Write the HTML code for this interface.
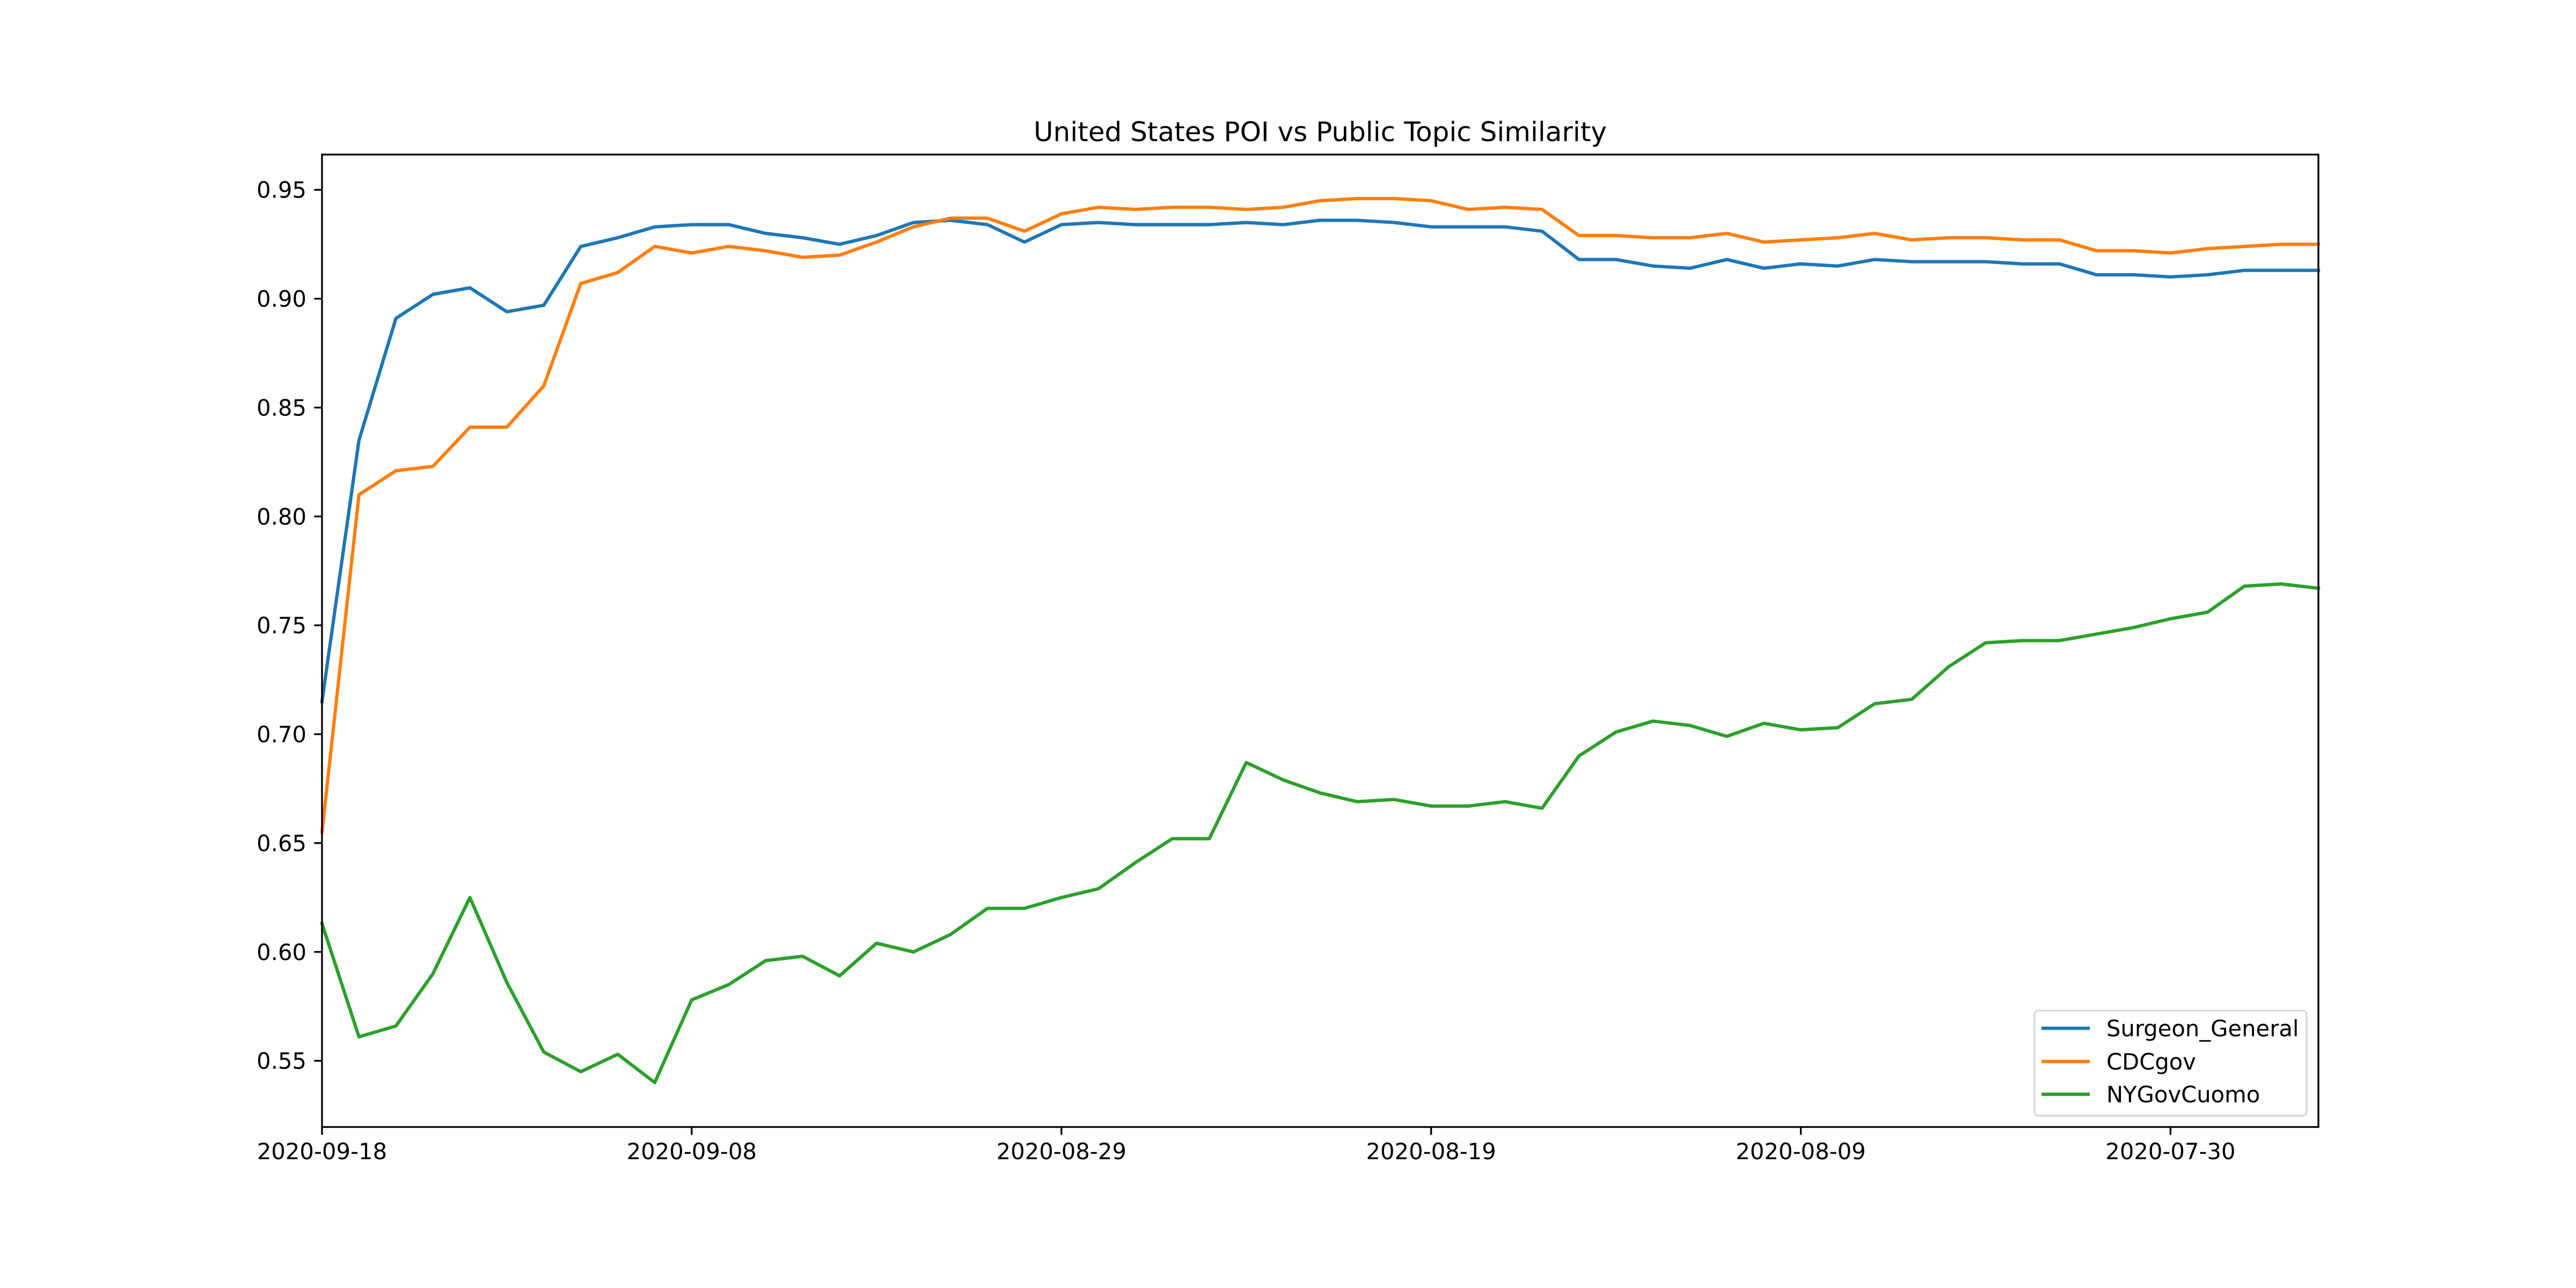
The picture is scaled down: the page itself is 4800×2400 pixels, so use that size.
<!DOCTYPE html>
<html><head><meta charset="utf-8"><style>html,body{margin:0;padding:0;background:#fff}svg{display:block}text{font-family:"DejaVu Sans","Liberation Sans",sans-serif;fill:#000}</style></head>
<body>
<svg id="chart" width="4800" height="2400" viewBox="0 0 4800 2400" xmlns="http://www.w3.org/2000/svg">
<rect x="0" y="0" width="4800" height="2400" fill="#fff"/>
<text x="2460" y="263" font-size="50" text-anchor="middle">United States POI vs Public Topic Similarity</text>
<g id="plot"></g>
<g id="yaxis"></g>
<g id="xaxis"></g>
<rect x="600" y="288" width="3720" height="1812" fill="none" stroke="#000" stroke-width="3.3"/>
<g>
<rect x="3791" y="1883" width="507" height="196" rx="8" fill="#fff" fill-opacity="0.8" stroke="#d6d6d6" stroke-width="3.3"/>
<line x1="3804" y1="1916" x2="3894" y2="1916" stroke="#1f77b4" stroke-width="6.25"/>
<text x="3925" y="1931" font-size="41.7">Surgeon_General</text>
<line x1="3804" y1="1978" x2="3894" y2="1978" stroke="#ff7f0e" stroke-width="6.25"/>
<text x="3925" y="1993" font-size="41.7">CDCgov</text>
<line x1="3804" y1="2039" x2="3894" y2="2039" stroke="#2ca02c" stroke-width="6.25"/>
<text x="3925" y="2054" font-size="41.7">NYGovCuomo</text>
</g>
</svg>
<script>
const surgeonGeneral = [0.715,0.835,0.891,0.902,0.905,0.894,0.897,0.924,0.928,0.933,0.934,0.934,0.930,0.928,0.925,0.929,0.935,0.936,0.934,0.926,0.934,0.935,0.934,0.934,0.934,0.935,0.934,0.936,0.936,0.935,0.933,0.933,0.933,0.931,0.918,0.918,0.915,0.914,0.918,0.914,0.916,0.915,0.918,0.917,0.917,0.917,0.916,0.916,0.911,0.911,0.910,0.911,0.913,0.913,0.913];
const cdcgov = [0.655,0.810,0.821,0.823,0.841,0.841,0.860,0.907,0.912,0.924,0.921,0.924,0.922,0.919,0.920,0.926,0.933,0.937,0.937,0.931,0.939,0.942,0.941,0.942,0.942,0.941,0.942,0.945,0.946,0.946,0.945,0.941,0.942,0.941,0.929,0.929,0.928,0.928,0.930,0.926,0.927,0.928,0.930,0.927,0.928,0.928,0.927,0.927,0.922,0.922,0.921,0.923,0.924,0.925,0.925];
const nyGovCuomo = [0.613,0.561,0.566,0.590,0.625,0.586,0.554,0.545,0.553,0.540,0.578,0.585,0.596,0.598,0.589,0.604,0.600,0.608,0.620,0.620,0.625,0.629,0.641,0.652,0.652,0.687,0.679,0.673,0.669,0.670,0.667,0.667,0.669,0.666,0.690,0.701,0.706,0.704,0.699,0.705,0.702,0.703,0.714,0.716,0.731,0.742,0.743,0.743,0.746,0.749,0.753,0.756,0.768,0.769,0.767];
const yTicks = [0.55,0.60,0.65,0.70,0.75,0.80,0.85,0.90,0.95];
const xTickIndex = [0,10,20,30,40,50];
const xTickLabels = ["2020-09-18","2020-09-08","2020-08-29","2020-08-19","2020-08-09","2020-07-30"];

const NS = "http://www.w3.org/2000/svg";
const L=600,R=4320,T=288,B=2100,YMIN=0.5196,YMAX=0.9662,N=54;
const xs = i => L + i*(R-L)/N;
const ys = v => B - (v-YMIN)/(YMAX-YMIN)*(B-T);
function mk(tag, attrs){const e=document.createElementNS(NS,tag);for(const k in attrs)e.setAttribute(k,attrs[k]);return e;}
const plot=document.getElementById('plot'), ya=document.getElementById('yaxis'), xa=document.getElementById('xaxis');
function series(vals,color,name){
  const p=mk('polyline',{points:vals.map((v,i)=>xs(i).toFixed(1)+','+ys(v).toFixed(1)).join(' '),fill:'none',stroke:color,'stroke-width':6.25,'stroke-linejoin':'round','stroke-linecap':'square'});
  
  
  plot.appendChild(p);
}
series(surgeonGeneral,'#1f77b4','series-surgeon-general');
series(cdcgov,'#ff7f0e','series-cdcgov');
series(nyGovCuomo,'#2ca02c','series-nygovcuomo');
yTicks.forEach(v=>{
  const y=ys(v);
  const t=mk('line',{x1:L-14.6,x2:L,y1:y,y2:y,stroke:'#000','stroke-width':3.3});
  
  
  ya.appendChild(t);
  const lb=mk('text',{x:L-29,y:y+15,'font-size':41.7,'text-anchor':'end'});
  lb.textContent=v.toFixed(2);
  
  
  ya.appendChild(lb);
});
xTickIndex.forEach((ix,k)=>{
  const x=xs(ix);
  const t=mk('line',{x1:x,x2:x,y1:B,y2:B+14.6,stroke:'#000','stroke-width':3.3});
  
  
  xa.appendChild(t);
  const lb=mk('text',{x:x,y:2160,'font-size':41.7,'text-anchor':'middle'});
  lb.textContent=xTickLabels[k];
  
  
  xa.appendChild(lb);
});
</script>
</body></html>
